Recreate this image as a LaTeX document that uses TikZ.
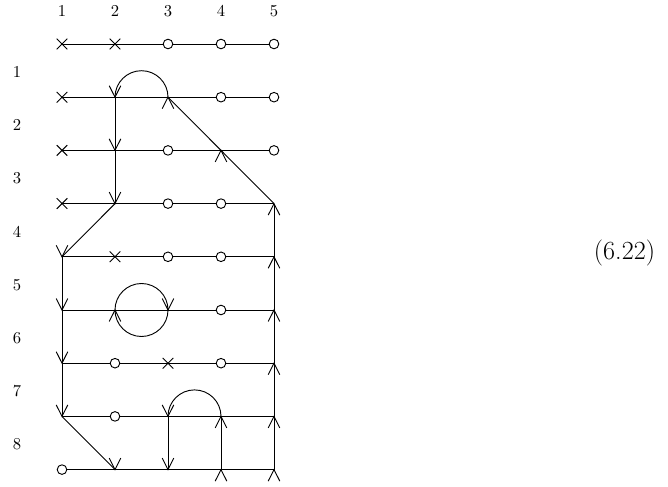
\documentclass[tikz,border=0pt]{standalone}
\begin{document}
\begin{tikzpicture}[x=0.65pt,y=0.65pt,
  ln/.style={line width=0.6pt},
  mk/.style={line width=0.6pt},
  lab/.style={inner sep=0pt,font=\fontsize{10.8}{13}\selectfont},
  eqlab/.style={inner sep=0pt,font=\fontsize{17}{20}\selectfont},
  xmk/.pic={\draw[mk] (-5.3,-5.3)--(5.3,5.3) (-5.3,5.3)--(5.3,-5.3);},
  omk/.pic={\draw[mk,fill=white] (0,0) circle (4.8);},
  dnmk/.pic={\draw[mk] (-5.8,11.5)--(0,0)--(5.8,11.5);},
  upmk/.pic={\draw[mk] (-5.8,-11.5)--(0,0)--(5.8,-11.5);}]
\useasboundingbox (0,0) rectangle (668,-487);
% grid coordinates
\foreach \i in {1,...,5}{
  \foreach \j in {0,...,8}{
    \coordinate (p\i\j) at ({62+53*(\i-1)},{-(44+53.2*\j)});
  }
}
% column labels
\foreach \i in {1,...,5}{
  \node[lab] (c\i) at ({62+53*(\i-1)},-11) {\i};
}
% row labels
\foreach \j in {1,...,8}{
  \node[lab] (r\j) at (17,{-(44+53.2*\j-26.6+1.5)}) {\j};
}
\node[eqlab] (eq) at (624.5,-253) {(6.22)};
% horizontal lines
\foreach \j in {0,...,8}{
  \draw[ln] (p1\j) -- (p5\j);
}
% vertical / diagonal connectors
\draw[ln] (p21) -- (p23);
\draw[ln] (p23) -- (p14);
\draw[ln] (p14) -- (p17);
\draw[ln] (p17) -- (p28);
\draw[ln] (p37) -- (p38);
\draw[ln] (p48) -- (p47);
\draw[ln] (p58) -- (p53);
\draw[ln] (p53) -- (p42) -- (p31);
% arcs and loop
\draw[ln] (p21) arc[start angle=180,end angle=0,radius=26.5];
\draw[ln] (p25) arc[start angle=180,end angle=-180,radius=26.5];
\draw[ln] (p37) arc[start angle=180,end angle=0,radius=26.5];
% marks
\foreach \i/\j/\m in {
  1/0/xmk,2/0/xmk,3/0/omk,4/0/omk,5/0/omk,
  1/1/xmk,2/1/dnmk,3/1/upmk,4/1/omk,5/1/omk,
  1/2/xmk,2/2/dnmk,3/2/omk,4/2/upmk,5/2/omk,
  1/3/xmk,2/3/dnmk,3/3/omk,4/3/omk,5/3/upmk,
  1/4/dnmk,2/4/xmk,3/4/omk,4/4/omk,5/4/upmk,
  1/5/dnmk,2/5/upmk,3/5/dnmk,4/5/omk,5/5/upmk,
  1/6/dnmk,2/6/omk,3/6/xmk,4/6/omk,5/6/upmk,
  1/7/dnmk,2/7/omk,3/7/dnmk,4/7/upmk,5/7/upmk,
  1/8/omk,2/8/dnmk,3/8/dnmk,4/8/upmk,5/8/upmk}{
  \pic at (p\i\j) {\m};
}
\end{tikzpicture}
\end{document}
